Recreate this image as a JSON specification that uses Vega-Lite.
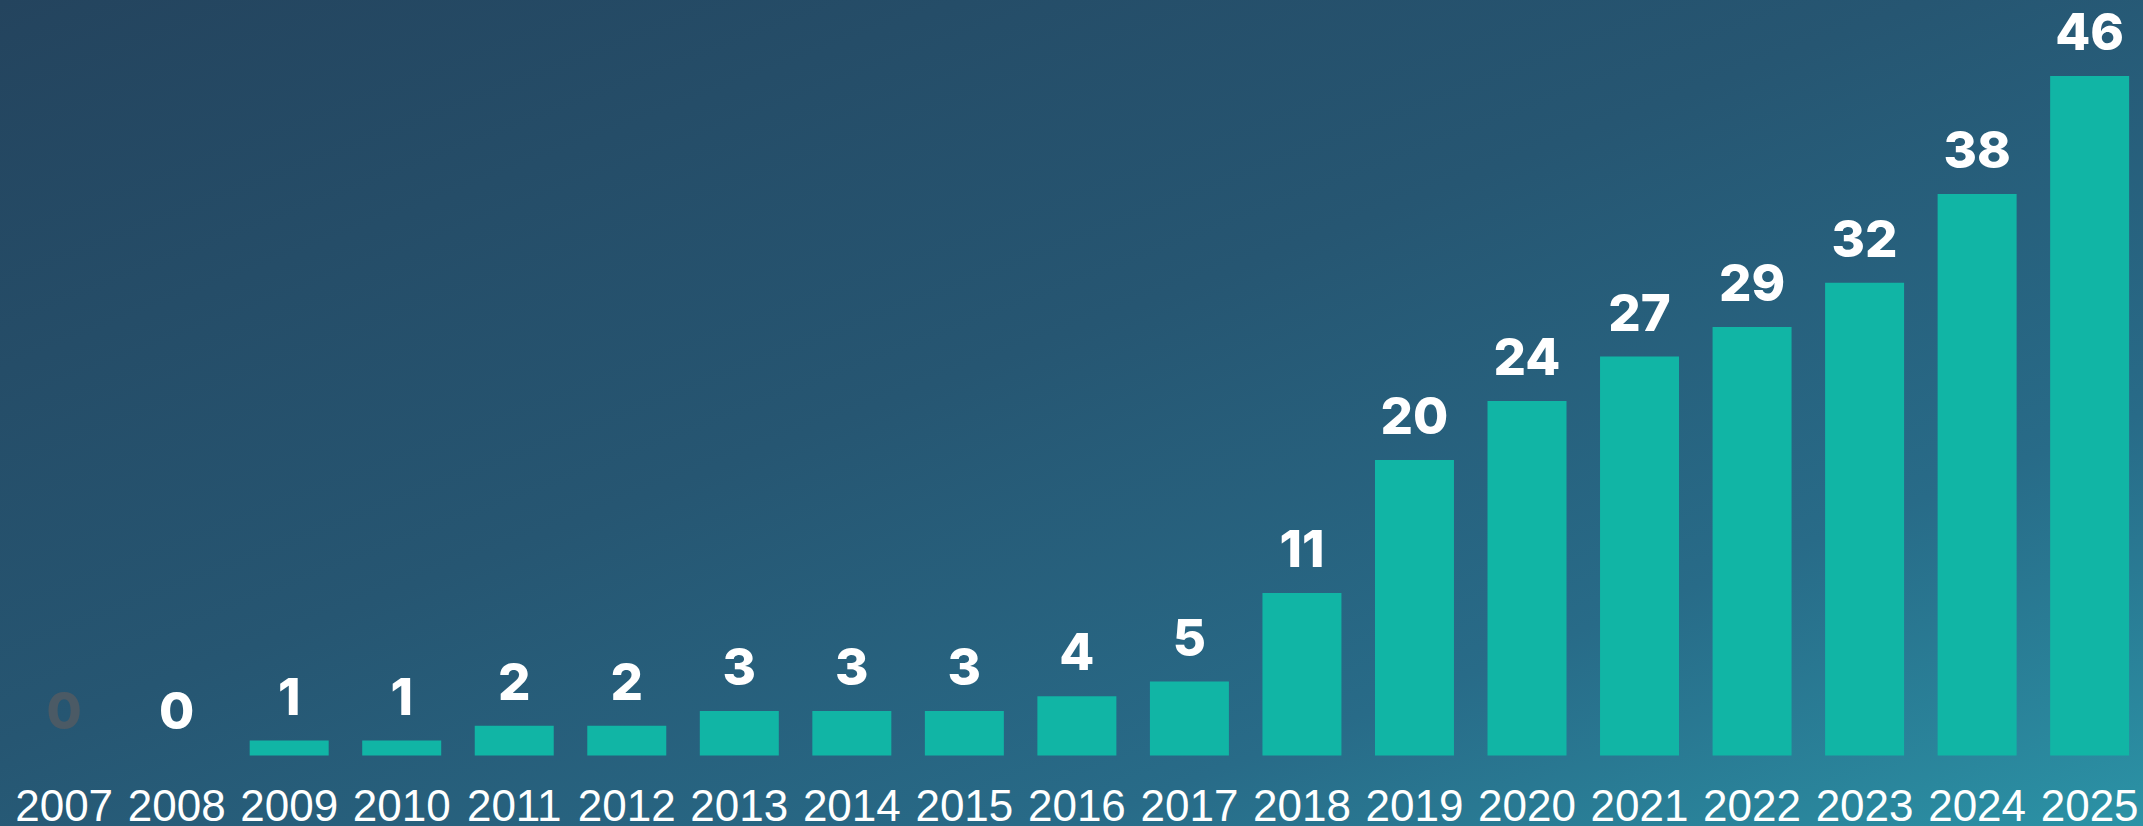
{
  "$schema": "https://vega.github.io/schema/vega-lite/v6.json",
  "width": 2143,
  "height": 826,
  "autosize": "none",
  "padding": 0,
  "background": "#27607a",
  "config": {"view": {"stroke": null}},
  "data": {
    "values": [
      {"year": "2007", "count": 0},
      {"year": "2008", "count": 0},
      {"year": "2009", "count": 1},
      {"year": "2010", "count": 1},
      {"year": "2011", "count": 2},
      {"year": "2012", "count": 2},
      {"year": "2013", "count": 3},
      {"year": "2014", "count": 3},
      {"year": "2015", "count": 3},
      {"year": "2016", "count": 4},
      {"year": "2017", "count": 5},
      {"year": "2018", "count": 11},
      {"year": "2019", "count": 20},
      {"year": "2020", "count": 24},
      {"year": "2021", "count": 27},
      {"year": "2022", "count": 29},
      {"year": "2023", "count": 32},
      {"year": "2024", "count": 38},
      {"year": "2025", "count": 46}
    ]
  },
  "encoding": {
    "x": {
      "field": "year",
      "type": "ordinal",
      "scale": {"paddingInner": 0.298, "paddingOuter": 0.171, "align": 0.64},
      "axis": null
    }
  },
  "layer": [
    {
      "data": {"values": [{"bg": 1}]},
      "mark": {
        "type": "rect",
        "color": {
          "gradient": "linear",
          "x1": 0, "y1": 0, "x2": 1, "y2": 1,
          "stops": [
            {"offset": 0, "color": "#24445e"},
            {"offset": 0.45, "color": "#265672"},
            {"offset": 0.75, "color": "#286b88"},
            {"offset": 1, "color": "#2b93a6"}
          ]
        }
      },
      "encoding": {"x": null}
    },
    {
      "mark": {"type": "bar", "color": "#11b5a5", "cornerRadius": 0},
      "encoding": {
        "y": {
          "field": "count",
          "type": "quantitative",
          "scale": {"domain": [-4.78, 51.14], "nice": false, "zero": false},
          "axis": null
        },
        "y2": {"datum": 0}
      }
    },
    {
      "mark": {
        "type": "text",
        "font": "Inter",
        "fontWeight": 800,
        "fontSize": 51,
        "baseline": "alphabetic",
        "align": "center",
        "dy": -26
      },
      "encoding": {
        "y": {"field": "count", "type": "quantitative"},
        "text": {"field": "count", "type": "quantitative"},
        "color": {
          "condition": {"test": "datum.year == '2007'", "value": "#4b5a65"},
          "value": "#ffffff"
        }
      }
    },
    {
      "mark": {
        "type": "text",
        "font": "Liberation Sans",
        "fontSize": 44,
        "baseline": "alphabetic",
        "align": "center",
        "color": "#ffffff",
        "dy": 66
      },
      "encoding": {
        "y": {"datum": 0},
        "text": {"field": "year", "type": "nominal"}
      }
    }
  ]
}
